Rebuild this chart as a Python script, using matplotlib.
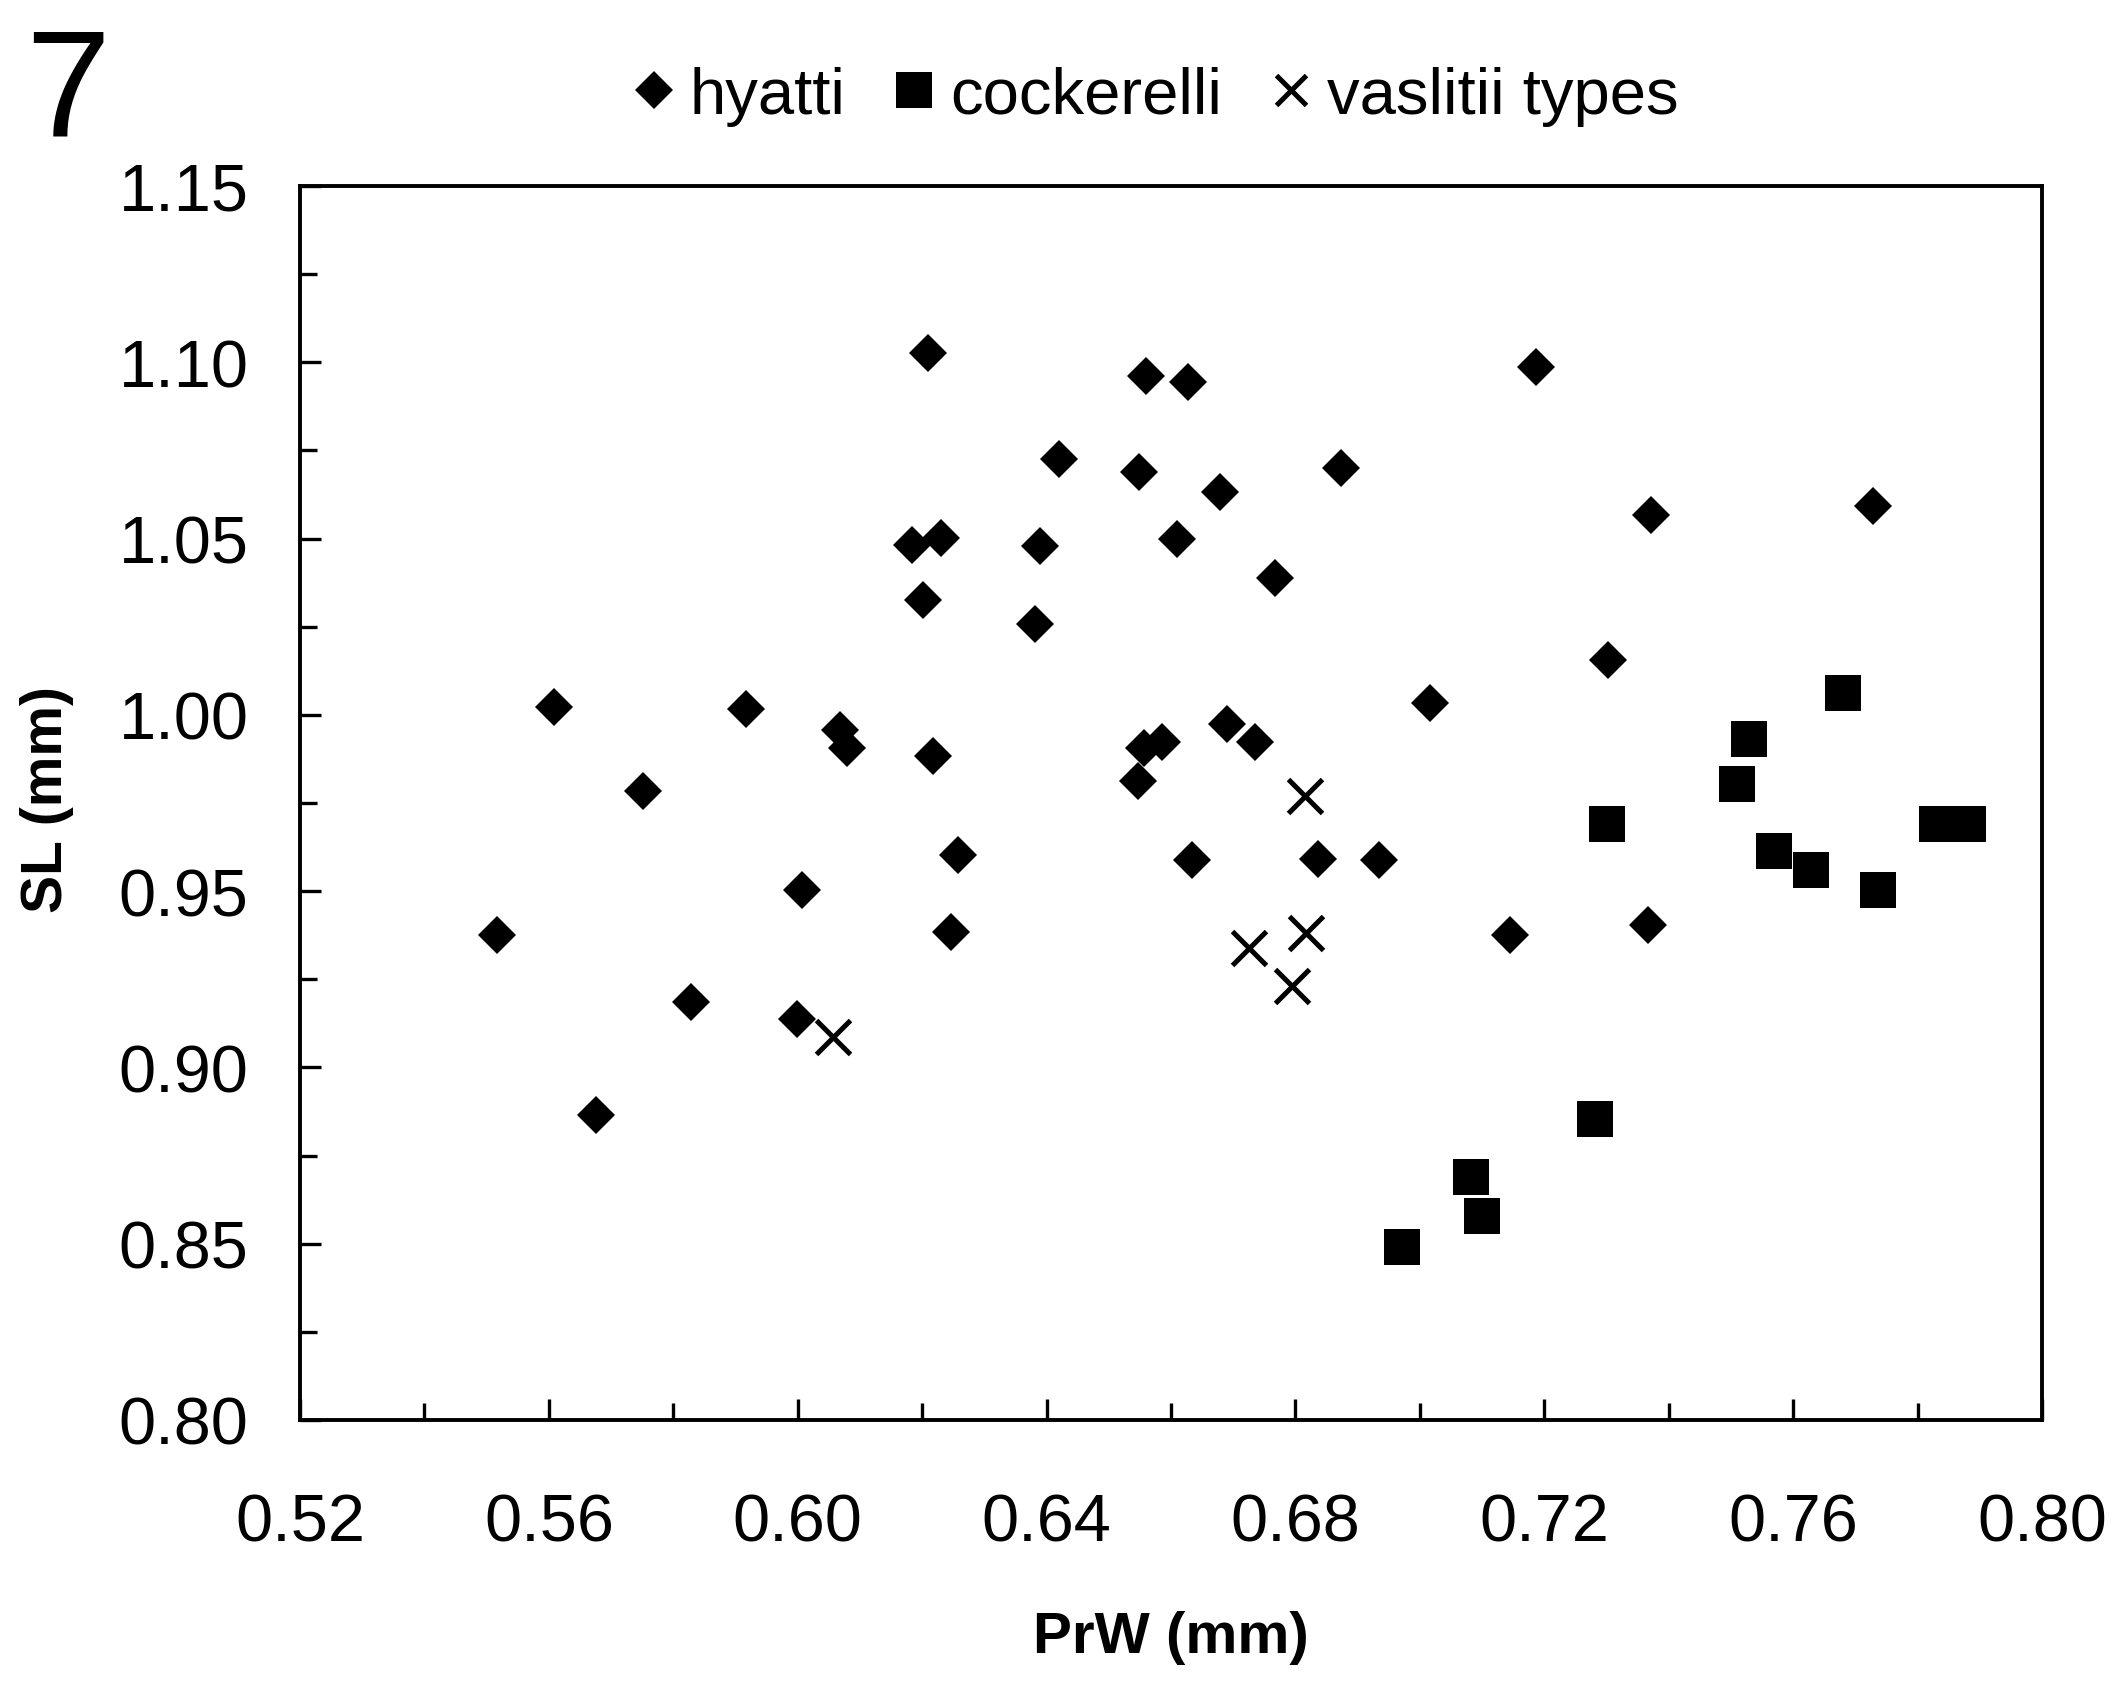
import matplotlib
matplotlib.use("Agg")
import matplotlib.pyplot as plt
from matplotlib.ticker import MultipleLocator, FormatStrFormatter
from matplotlib.lines import Line2D

plt.rcParams['font.family'] = ['Liberation Sans', 'DejaVu Sans']

# ---- data ----
hyatti_prw = [0.5517, 0.5608, 0.5675, 0.5751, 0.5828, 0.5917, 0.6007, 0.5999,
              0.6068, 0.6079, 0.6184, 0.6230, 0.6202, 0.6210, 0.6217, 0.6258,
              0.6247, 0.6381, 0.6390, 0.6420, 0.6549, 0.6560, 0.6627, 0.6610,
              0.6547, 0.6556, 0.6586, 0.6633, 0.6679, 0.6690, 0.6735, 0.6767,
              0.6836, 0.6873, 0.6934, 0.7016, 0.7145, 0.7186, 0.7303, 0.7372,
              0.7367, 0.7728]
hyatti_sl = [0.9377, 1.0023, 0.8864, 0.9783, 0.9186, 1.0016, 0.9503, 0.9136,
             0.9958, 0.9905, 1.0483, 1.0502, 1.0326, 1.1026, 0.9882, 0.9603,
             0.9385, 1.0257, 1.0479, 1.0727, 1.0689, 1.0961, 1.0945, 1.0498,
             0.9813, 0.9905, 0.9924, 0.9587, 1.0632, 0.9974, 0.9924, 1.0387,
             0.9591, 1.0701, 0.9587, 1.0035, 0.9377, 1.0987, 1.0157, 1.0567,
             0.9404, 1.0593]

cockerelli_prw = [0.6972, 0.7082, 0.7100, 0.7281, 0.7300, 0.7510, 0.7529,
                  0.7570, 0.7629, 0.7680, 0.7737, 0.7832, 0.7881]
cockerelli_sl = [0.8490, 0.8689, 0.8578, 0.8853, 0.9691, 0.9805, 0.9932,
                 0.9614, 0.9561, 1.0062, 0.9503, 0.9691, 0.9691]

vaslitii_prw = [0.6057, 0.6726, 0.6815, 0.6817, 0.6795]
vaslitii_sl = [0.9086, 0.9339, 0.9771, 0.9381, 0.9232]

series_labels = ["hyatti", "cockerelli", "vaslitii types"]
x_label = "PrW (mm)"
y_label = "SL (mm)"
panel_label = "7"

# ---- figure ----
W, H, DPI = 2114, 1683, 200
fig = plt.figure(figsize=(W / DPI, H / DPI), dpi=DPI)
ax = fig.add_axes([300 / W, 1 - 1421 / H, (2042 - 300) / W, (1421 - 187) / H])

ax.plot(hyatti_prw, hyatti_sl, linestyle='none', marker='D', ms=9.6,
        mfc='black', mec='black', mew=0)
ax.plot(cockerelli_prw, cockerelli_sl, linestyle='none', marker='s', ms=13.0,
        mfc='black', mec='black', mew=0)
ax.plot(vaslitii_prw, vaslitii_sl, linestyle='none', marker='x', ms=12.5,
        color='black', mew=1.8)

ax.set_xlim(0.52, 0.80)
ax.set_ylim(0.80, 1.15)
ax.xaxis.set_major_locator(MultipleLocator(0.04))
ax.xaxis.set_minor_locator(MultipleLocator(0.02))
ax.yaxis.set_major_locator(MultipleLocator(0.05))
ax.yaxis.set_minor_locator(MultipleLocator(0.025))
ax.xaxis.set_major_formatter(FormatStrFormatter('%.2f'))
ax.yaxis.set_major_formatter(FormatStrFormatter('%.2f'))

for s in ax.spines.values():
    s.set_linewidth(1.4)

ax.tick_params(axis='both', which='both', direction='in', top=False, right=False,
               width=1.2)
ax.tick_params(axis='both', which='major', length=7.5)
ax.tick_params(axis='both', which='minor', length=6)
ax.tick_params(axis='y', which='major', labelsize=24, pad=18.5)
ax.tick_params(axis='x', which='major', labelsize=24, pad=26)

fig.text(1171 / W, 1 - 1638 / H, x_label, ha='center', va='center',
         fontsize=21, fontweight='bold')
fig.text(47 / W, 1 - 800 / H, y_label, ha='center', va='center',
         rotation=90, fontsize=20.5, fontweight='bold')
fig.text(25 / W, 1 - 25 / H, panel_label, ha='left', va='top', fontsize=55)

handles = [
    Line2D([], [], linestyle='none', marker='D', ms=9.6, mfc='black', mec='black', mew=0),
    Line2D([], [], linestyle='none', marker='s', ms=13.0, mfc='black', mec='black', mew=0),
    Line2D([], [], linestyle='none', marker='x', ms=11, color='black', mew=1.8),
]
fig.legend(handles, series_labels, loc='center', bbox_to_anchor=(1153 / W, 1 - 97 / H),
           ncol=3, frameon=False, fontsize=23.5, handlelength=0.8,
           handletextpad=0.15, columnspacing=0.65, borderpad=0)

fig.savefig("out.png", dpi=DPI, facecolor='white')
